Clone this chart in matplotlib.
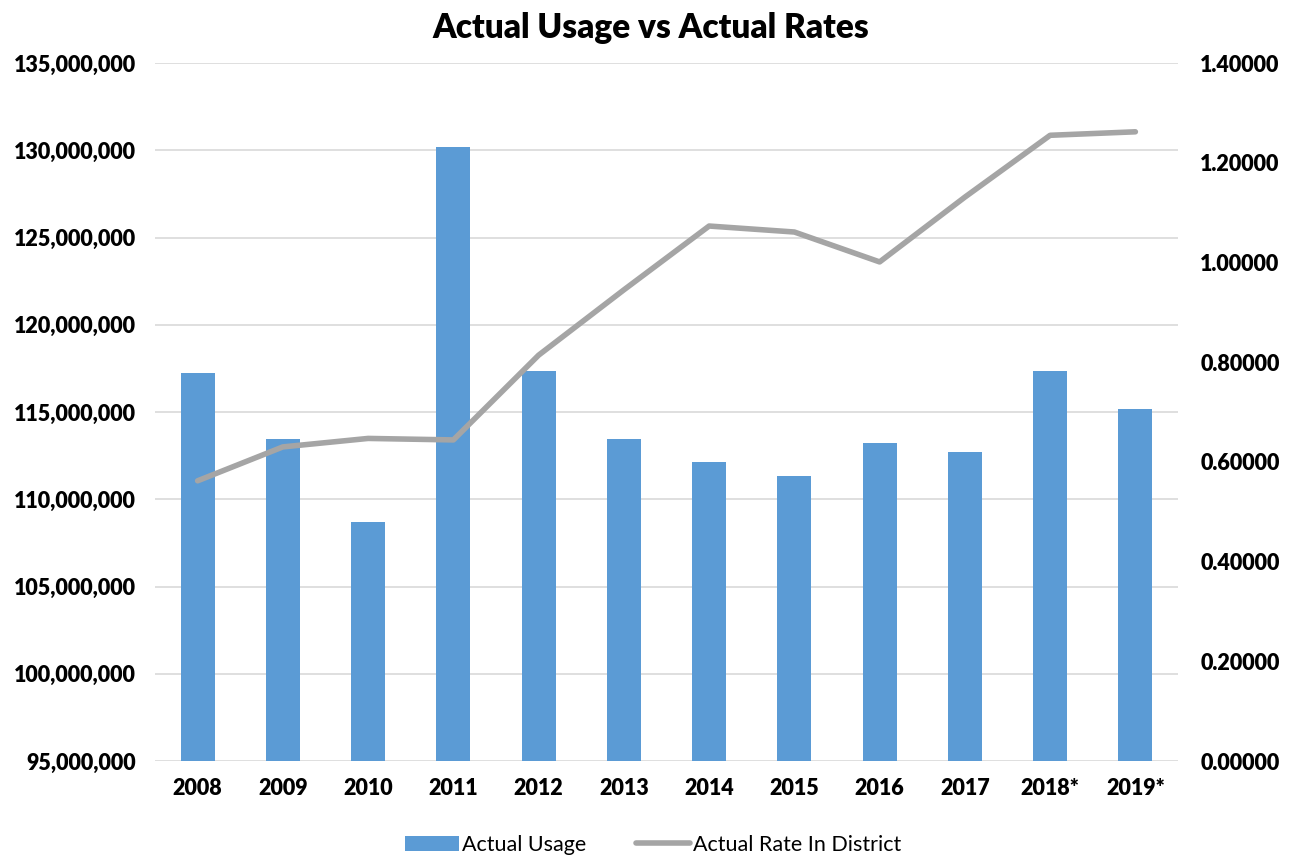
import matplotlib
matplotlib.use("Agg")
import matplotlib.pyplot as plt
from matplotlib.ticker import FuncFormatter, MultipleLocator

years = ["2008", "2009", "2010", "2011", "2012", "2013", "2014", "2015", "2016", "2017", "2018*", "2019*"]
usage = [117.25e6, 113.43e6, 108.7e6, 130.19e6, 117.35e6, 113.47e6, 112.13e6, 111.32e6, 113.22e6, 112.69e6, 117.35e6, 115.17e6]
rate = [0.562, 0.630, 0.647, 0.644, 0.814, 0.945, 1.073, 1.061, 1.001, 1.131, 1.255, 1.262]

plt.rcParams['font.family'] = ['Lato', 'DejaVu Sans']

fig = plt.figure(figsize=(12.95, 8.57), dpi=100)
ax = fig.add_axes([155/1295, 1 - 761/857, (1178-155)/1295, (761-63)/857])
ax2 = ax.twinx()

x = list(range(len(years)))
ax.bar(x, usage, width=0.4, color='#5B9BD5', zorder=2, label='Actual Usage')
ax2.plot(x, rate, color='#A5A5A5', lw=4, solid_capstyle='round', solid_joinstyle='round', zorder=3, label='Actual Rate In District')

ax.set_xlim(-0.5, len(years) - 0.5)
ax.set_ylim(95e6, 135e6)
ax.yaxis.set_major_locator(MultipleLocator(5e6))
ax.yaxis.set_major_formatter(FuncFormatter(lambda v, p: f"{v:,.0f}"))
ax2.set_ylim(0, 1.4)
ax2.yaxis.set_major_locator(MultipleLocator(0.2))
ax2.yaxis.set_major_formatter(FuncFormatter(lambda v, p: f"{v:.5f}"))

ax.set_xticks(x)
ax.set_xticklabels(years)
ax.grid(axis='y', color='#D9D9D9', lw=1.2, zorder=0)
ax.set_axisbelow(True)
for a in (ax, ax2):
    for s in a.spines.values():
        s.set_visible(False)
    a.tick_params(length=0)
for lab in ax.get_yticklabels() + ax2.get_yticklabels() + ax.get_xticklabels():
    lab.set_fontweight('heavy')
    lab.set_fontsize(15.5)
ax.tick_params(axis='y', pad=14)
ax2.tick_params(axis='y', pad=16)
ax.tick_params(axis='x', pad=12)

fig.text(651/1295, 1 - 28/857, "Actual Usage vs Actual Rates", ha='center', va='center',
         fontsize=24, fontweight='heavy')

h1, l1 = ax.get_legend_handles_labels()
h2, l2 = ax2.get_legend_handles_labels()
fig.legend(h1 + h2, l1 + l2, loc='center', bbox_to_anchor=(653/1295, 1 - 845/857), ncol=2,
           frameon=False, fontsize=15.5, handlelength=2.5, handleheight=0.7, columnspacing=2.3, handletextpad=0.15)

fig.savefig("out.png", dpi=100)
